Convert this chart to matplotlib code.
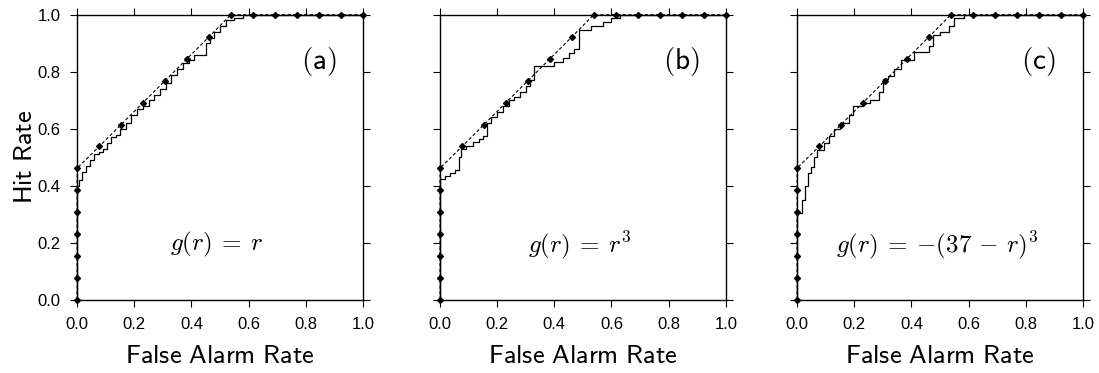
import matplotlib
matplotlib.use('Agg')
import matplotlib.pyplot as plt

plt.rcParams['mathtext.fontset'] = 'cm'
plt.rcParams['font.family'] = ['Liberation Sans', 'DejaVu Sans']

# discrete ROC points (dashed line with dots), same in every panel
disc_far = [0.0, 0.0, 0.0, 0.0, 0.0, 0.0, 0.0, 0.077, 0.154, 0.231, 0.308,
            0.385, 0.462, 0.538, 0.615, 0.692, 0.769, 0.846, 0.923, 1.0]
disc_hit = [0.0, 0.077, 0.154, 0.231, 0.308, 0.385, 0.462, 0.538, 0.615, 0.692,
            0.769, 0.846, 0.923, 1.0, 1.0, 1.0, 1.0, 1.0, 1.0, 1.0]

# stepped ROC curves, one per panel
far_a = [0, 0, 0.008, 0.018, 0.03, 0.045, 0.06, 0.075, 0.09, 0.105, 0.12, 0.135,
         0.15, 0.17, 0.19, 0.21, 0.23, 0.25, 0.27, 0.29, 0.31, 0.33, 0.35, 0.37,
         0.39, 0.41, 0.45, 0.465, 0.48, 0.50, 0.52, 0.55, 0.58, 1.0]
hit_a = [0, 0.40, 0.42, 0.45, 0.47, 0.49, 0.51, 0.52, 0.53, 0.55, 0.57, 0.58,
         0.60, 0.62, 0.65, 0.67, 0.68, 0.70, 0.72, 0.74, 0.76, 0.79, 0.81, 0.83,
         0.84, 0.86, 0.90, 0.92, 0.94, 0.96, 0.98, 0.99, 1.0, 1.0]

far_b = [0, 0, 0.016, 0.034, 0.052, 0.065, 0.072, 0.09, 0.116, 0.135, 0.15, 0.165,
         0.18, 0.20, 0.22, 0.24, 0.26, 0.28, 0.30, 0.315, 0.33, 0.40, 0.43, 0.45,
         0.47, 0.485, 0.53, 0.57, 0.60, 0.63, 1.0]
hit_b = [0, 0.425, 0.435, 0.445, 0.456, 0.50, 0.53, 0.54, 0.555, 0.565, 0.575, 0.62,
         0.64, 0.66, 0.68, 0.70, 0.71, 0.73, 0.75, 0.77, 0.82, 0.835, 0.85, 0.865,
         0.88, 0.945, 0.96, 0.975, 0.99, 1.0, 1.0]

far_c = [0, 0, 0.016, 0.027, 0.038, 0.05, 0.058, 0.07, 0.093, 0.11, 0.128, 0.151,
         0.18, 0.197, 0.232, 0.255, 0.285, 0.30, 0.318, 0.34, 0.365, 0.41, 0.462,
         0.474, 0.50, 0.53, 0.548, 0.583, 1.0]
hit_c = [0, 0.305, 0.35, 0.40, 0.445, 0.465, 0.50, 0.525, 0.55, 0.575, 0.60, 0.62,
         0.65, 0.68, 0.69, 0.70, 0.73, 0.775, 0.785, 0.81, 0.84, 0.87, 0.89,
         0.93, 0.94, 0.96, 0.99, 1.0, 1.0]

curves = [(far_a, hit_a), (far_b, hit_b), (far_c, hit_c)]
tags = ['(a)', '(b)', '(c)']
formulas = [r'$g(r)\:=\:r$', r'$g(r)\:=\:r^3$', r'$g(r)\:=\:-(37\,-\,r)^3$']
ticks = [0.0, 0.2, 0.4, 0.6, 0.8, 1.0]
tick_labels = ['0.0', '0.2', '0.4', '0.6', '0.8', '1.0']

fig = plt.figure(figsize=(10.99, 3.73), dpi=100)
lefts = [0.0702, 0.4004, 0.7253]
for i, left in enumerate(lefts):
    ax = fig.add_axes([left, 0.196, 0.2600, 0.7645])
    far, hit = curves[i]
    ax.plot(far, hit, drawstyle='steps-post', color='black', lw=0.9, clip_on=False)
    ax.plot(disc_far, disc_hit, color='black', ls=(0, (3, 2)), lw=0.8,
            marker='D', ms=3, clip_on=False)
    ax.set_xlim(0, 1)
    ax.set_ylim(0, 1)
    ax.set_xticks(ticks)
    ax.set_xticklabels(tick_labels, fontsize=12)
    ax.set_yticks(ticks)
    if i == 0:
        ax.set_yticklabels(tick_labels, fontsize=12)
        ax.set_ylabel(r'$\mathsf{Hit\ Rate}$', fontsize=19, labelpad=0)
    else:
        ax.set_yticklabels([])
    ax.tick_params(direction='out', length=5, width=0.8, top=True, right=True,
                   pad=7)
    for sp in ax.spines.values():
        sp.set_linewidth(1.0)
    ax.set_xlabel(r'$\mathsf{False\ Alarm\ Rate}$', fontsize=19, labelpad=9)
    ax.text(0.845, 0.835, r'$\mathsf{' + tags[i] + '}$', fontsize=21,
            ha='center', va='center', transform=ax.transAxes)
    ax.text(0.49, 0.193, formulas[i], fontsize=18, ha='center', va='center',
            transform=ax.transAxes)

fig.savefig('out.png', dpi=100)
